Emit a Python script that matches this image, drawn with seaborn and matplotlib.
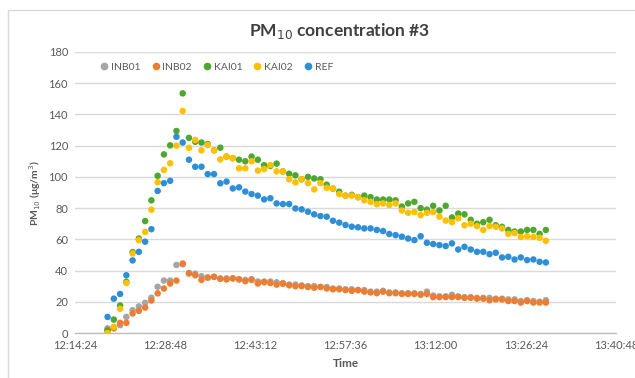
import numpy as np
import pandas as pd
import matplotlib
matplotlib.use("Agg")
import matplotlib.pyplot as plt
import matplotlib.dates as mdates
from matplotlib.lines import Line2D
import seaborn as sns

# Sampling schedule: one reading per minute
start_time = "2020-01-01 12:19:36"
n_samples = 71

inb01 = [3, 3.5, 5, 10.3, 14.6, 17, 19.3, 22.6, 29.6, 33.6, 33.6, 43.6, 44, 38.5, 38,
         36.4, 35.5, 36, 35, 35, 35, 34.5, 34, 34.5, 33, 33, 33, 32.5, 32, 31, 31,
         30.5, 30, 30, 29.5, 29.5, 28.5, 28.5, 28, 28, 27.5, 27.5, 26.5, 26.5, 27, 26,
         26, 25.5, 25.5, 25.5, 25, 26.5, 24, 23.5, 23.5, 24.5, 23.5, 23, 23, 22.5, 22.5,
         22.5, 22, 22, 21.5, 21.5, 20.5, 21, 20.5, 20, 21]
inb02 = [2, 3, 6.5, 6.5, 12.5, 14.2, 16.3, 20.8, 25.4, 28.5, 31.7, 33.6, 44.5, 38.1, 37,
         34, 35.5, 36, 34.7, 34.3, 35, 34.3, 33.2, 34, 31.7, 32.5, 32, 31, 31.5, 30.5, 30,
         30, 29.5, 29, 29.5, 28.5, 28, 28, 27.5, 27, 27.5, 26.5, 26, 25.5, 26.5, 25.5,
         25.5, 25, 25, 25, 24.5, 25, 23, 23, 23, 23, 23, 22.5, 22.5, 22, 22,
         21, 21.5, 21.5, 20.5, 20.5, 19.5, 20.5, 19.5, 19.5, 19.5]
kai01 = [1.5, 8.6, 17.6, 32.8, 51.8, 60.5, 71.7, 85, 100.7, 114.4, 120.2, 129.4, 153.5, 125,
         122.5, 122, 121, 117, 118.7, 113, 112, 111, 110, 113,
         111, 107.5, 107, 108.5, 103.5, 102, 101, 98.5, 100, 99,
         98.5, 95, 92.5, 90.5, 88, 88.5, 87, 88, 87, 85.5,
         85.5, 85.5, 85, 81, 83, 84, 80, 79, 81.5, 78.5,
         81.5, 74, 76.5, 76, 72.5, 70, 71, 72.5, 69, 68,
         66, 65, 65, 66, 66, 63.5, 66]
kai02 = [0, 4, 15.5, 32, 51, 59.5, 64.8, 79, 96.6, 104.5, 108.7, 120, 142.2, 118.6, 123.6,
         117, 120.4, 117, 111.2, 113, 112, 105.5, 105.5, 110, 104,
         105, 107.5, 103.5, 103.5, 98.5, 96.5, 98.5, 96, 92, 96, 93, 92.5, 89, 88, 88, 87,
         85, 84, 82.5, 83, 82, 83,
         78.5, 77, 77.5, 75.5, 77, 77.5, 74.5, 72, 71, 73.5,
         69, 70, 68.5, 66, 68.5, 68, 67, 63.5, 64, 61.5,
         62, 61.5, 61, 59]
ref = [10.3, 22, 25, 37, 46.5, 52, 58.5, 66.5, 91, 96, 97.5, 125.7, 122, 111, 106.5,
       106.5, 101.8, 101.8, 95.9, 97, 92.6, 93.3, 90.6, 89, 88, 85.6, 86.3, 83, 82.6, 82.6, 79.8,
       79.2, 77.7, 76, 74.9, 74.5, 71.9, 70.7, 69.2, 68.1, 67.7, 67, 67, 66, 65.3, 63.4,
       62.7, 61.7, 60.5, 59.5, 62, 57.8, 57, 56.3, 55.7, 57.4, 53.5, 55.2, 53.5, 52, 52,
       50.5, 51.4, 48.4, 48.8, 47.1, 48.4, 46.7, 47.1, 45.6, 45.2]

series_names = ["INB01", "INB02", "KAI01", "KAI02", "REF"]
series_colors = ["#A5A5A5", "#ED7D31", "#4EA72E", "#FFC000", "#2E8FD6"]

y_ticks = [0, 20, 40, 60, 80, 100, 120, 140, 160, 180]
x_start = "2020-01-01 12:14:24"
x_end = "2020-01-01 13:40:48"
x_tick_step_min = 14.4

times = pd.date_range(start_time, periods=n_samples, freq="1min")
frames = []
for name, vals in zip(series_names, [inb01, inb02, kai01, kai02, ref]):
    frames.append(pd.DataFrame({"Time": times, "PM10": vals, "Sensor": name}))
df = pd.concat(frames, ignore_index=True)

sns.set_theme(style="white")
plt.rcParams["font.family"] = ["Lato", "DejaVu Sans"]

fig = plt.figure(figsize=(6.35, 3.78), dpi=100)
ax = fig.add_axes([75 / 635, 1 - 333 / 378, (616 - 75) / 635, (333 - 52) / 378])

sns.scatterplot(data=df, x="Time", y="PM10", hue="Sensor", hue_order=series_names,
                palette=series_colors, s=22, linewidth=0, ax=ax, legend=False, zorder=3)

t0 = pd.Timestamp(x_start)
t1 = pd.Timestamp(x_end)
ax.set_xlim(t0, t1)
ticks = [t0 + pd.Timedelta(minutes=x_tick_step_min * k) for k in range(7)]
ax.set_xticks(ticks)
ax.xaxis.set_major_formatter(mdates.DateFormatter("%H:%M:%S"))
ax.set_ylim(0, 180)
ax.set_yticks(y_ticks)

ax.grid(axis="y", color="#D9D9D9", linewidth=1)
ax.set_axisbelow(True)
for side in ["top", "right", "left"]:
    ax.spines[side].set_visible(False)
ax.spines["bottom"].set_color("#BFBFBF")
ax.spines["bottom"].set_linewidth(1)
ax.tick_params(axis="both", length=0, labelsize=8, labelcolor="#595959", pad=5)

ax.set_xlabel("Time", fontsize=8.5, fontweight="bold", color="#595959", labelpad=5)
ax.set_ylabel("PM$_{10}$ (μg/m$^3$)", fontsize=7.5, fontweight="bold", color="#595959",
              labelpad=4)

fig.text(340 / 635, 1 - 31 / 378, "PM$_{10}$ concentration #3", ha="center", va="center",
         fontsize=12.5, fontweight="bold", color="#404040")

handles = [Line2D([0], [0], marker="o", linestyle="", markersize=5.5,
                  markerfacecolor=c, markeredgewidth=0) for c in series_colors]
ax.legend(handles, series_names, ncol=5, loc="upper left", bbox_to_anchor=(0.025, 0.995),
          frameon=False, fontsize=7.5, handletextpad=0.05, columnspacing=0.85,
          labelcolor="#595959", handlelength=1.2)

# Chart frame
fig.add_artist(Line2D([8 / 635, 8 / 635], [0, 1 - 10 / 378], transform=fig.transFigure,
                      color="#D9D9D9", linewidth=1))
fig.add_artist(Line2D([8 / 635, 1], [1 - 10 / 378, 1 - 10 / 378], transform=fig.transFigure,
                      color="#D9D9D9", linewidth=1))

fig.savefig("out.png", dpi=100)
